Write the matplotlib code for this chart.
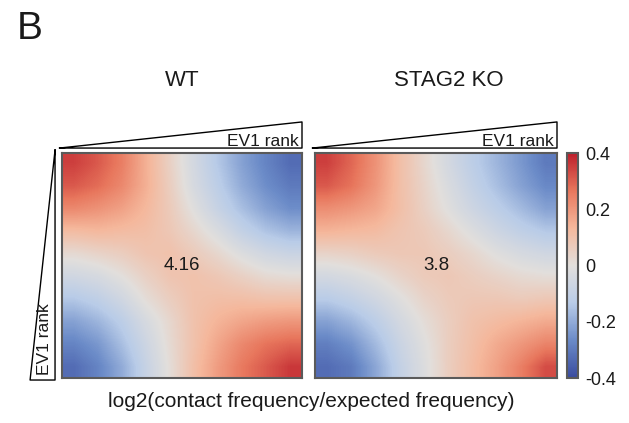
import matplotlib
matplotlib.use("Agg")
import matplotlib.pyplot as plt
from matplotlib.colors import LinearSegmentedColormap
from matplotlib.lines import Line2D

plt.rcParams['font.family'] = ['Liberation Sans', 'DejaVu Sans']

# saddle matrices, EV1 rank bins (rows top->bottom, cols left->right)
wt_saddle = [
    [0.35, 0.31, 0.25, 0.15, 0.05, -0.05, -0.14, -0.22, -0.28, -0.33],
    [0.31, 0.28, 0.23, 0.15, 0.06, -0.04, -0.12, -0.20, -0.26, -0.30],
    [0.23, 0.21, 0.18, 0.13, 0.07, -0.01, -0.09, -0.16, -0.22, -0.26],
    [0.12, 0.13, 0.12, 0.11, 0.08, 0.03, -0.03, -0.10, -0.15, -0.18],
    [0.02, 0.04, 0.06, 0.09, 0.10, 0.07, 0.03, -0.02, -0.06, -0.08],
    [-0.06, -0.04, 0.00, 0.05, 0.09, 0.10, 0.08, 0.05, 0.02, 0.01],
    [-0.14, -0.11, -0.06, 0.01, 0.06, 0.10, 0.11, 0.11, 0.10, 0.10],
    [-0.22, -0.18, -0.12, -0.04, 0.03, 0.10, 0.14, 0.17, 0.19, 0.20],
    [-0.28, -0.24, -0.16, -0.07, 0.02, 0.10, 0.17, 0.23, 0.27, 0.29],
    [-0.33, -0.28, -0.20, -0.09, 0.01, 0.11, 0.19, 0.26, 0.31, 0.36],
]
ko_saddle = [
    [0.35, 0.29, 0.21, 0.11, 0.03, -0.05, -0.12, -0.18, -0.24, -0.30],
    [0.31, 0.27, 0.20, 0.11, 0.04, -0.03, -0.10, -0.16, -0.22, -0.27],
    [0.22, 0.20, 0.17, 0.11, 0.05, -0.01, -0.07, -0.12, -0.17, -0.22],
    [0.14, 0.13, 0.12, 0.09, 0.07, 0.03, -0.02, -0.07, -0.11, -0.14],
    [0.04, 0.05, 0.07, 0.08, 0.08, 0.06, 0.03, -0.01, -0.04, -0.06],
    [-0.05, -0.03, 0.00, 0.04, 0.07, 0.08, 0.06, 0.04, 0.02, 0.01],
    [-0.13, -0.10, -0.06, -0.01, 0.04, 0.07, 0.08, 0.08, 0.07, 0.08],
    [-0.22, -0.18, -0.12, -0.05, 0.01, 0.06, 0.10, 0.12, 0.14, 0.16],
    [-0.29, -0.25, -0.17, -0.08, -0.01, 0.06, 0.11, 0.16, 0.20, 0.24],
    [-0.33, -0.30, -0.21, -0.10, -0.02, 0.06, 0.12, 0.18, 0.25, 0.33],
]
titles = ["WT", "STAG2 KO"]
strengths = ["4.16", "3.8"]
cbar_ticks = [-0.4, -0.2, 0, 0.2, 0.4]
cbar_labels = ["-0.4", "-0.2", "0", "0.2", "0.4"]

cmap = LinearSegmentedColormap.from_list(
    "saddle", ["#3a4b9f", "#6b8bc8", "#b9cce8", "#e2dfdc",
               "#f5b89c", "#e8775d", "#bd1f2c"])

fig = plt.figure(figsize=(6.29, 4.23), dpi=100)
W, H = 629.0, 423.0

def px_axes(x0, x1, y0, y1):
    return fig.add_axes([x0 / W, 1 - y1 / H, (x1 - x0) / W, (y1 - y0) / H])

ax_wt = px_axes(62, 302, 153, 378)
ax_ko = px_axes(315, 557, 153, 378)
cax = px_axes(567, 578, 153, 378)

edge = "#5a5a5a"
txt = "#1a1a1a"
for ax, mat, title, s in zip([ax_wt, ax_ko], [wt_saddle, ko_saddle], titles, strengths):
    im = ax.imshow(mat, cmap=cmap, vmin=-0.4, vmax=0.4, aspect="auto",
                   interpolation="bilinear")
    ax.set_xticks([])
    ax.set_yticks([])
    for sp in ax.spines.values():
        sp.set_color(edge)
        sp.set_linewidth(1.5)
    ax.text(0.5, 0.5, s, transform=ax.transAxes, ha="center", va="center",
            fontsize=13.5, color=txt)
    # EV1 rank wedge above the map
    ax.add_line(Line2D([-0.01, 1.0, 1.0, -0.01], [1.022, 1.138, 1.022, 1.022],
                       transform=ax.transAxes, color="black", lw=1.0, clip_on=False))
    ax.text(0.985, 1.03, "EV1 rank", transform=ax.transAxes, ha="right",
            va="baseline", fontsize=12.5, fontstretch="condensed",
            family=["Liberation Sans Narrow", "Liberation Sans"], color=txt)

# panel titles
fig.text(182 / W, 1 - 81 / H, titles[0], ha="center", va="center", fontsize=16, color=txt)
fig.text(449 / W, 1 - 81 / H, titles[1], ha="center", va="center", fontsize=16, color=txt)

# EV1 rank wedge on the left of the WT map
ax_wt.add_line(Line2D([-0.029, -0.133, -0.029, -0.029], [1.013, -0.009, -0.009, 1.013],
                      transform=ax_wt.transAxes, color="black", lw=1.0, clip_on=False))
ax_wt.text(-0.072, 0.015, "EV1 rank", transform=ax_wt.transAxes, rotation=90,
           ha="center", va="bottom", fontsize=12.5, fontstretch="condensed",
           family=["Liberation Sans Narrow", "Liberation Sans"], color=txt)

cb = fig.colorbar(im, cax=cax, ticks=cbar_ticks)
cb.ax.set_yticklabels(cbar_labels)
cb.ax.tick_params(length=0, pad=5, labelsize=13, labelcolor=txt)
cb.outline.set_edgecolor(edge)
cb.outline.set_linewidth(1.5)

fig.text(311 / W, 1 - 401 / H, "log2(contact frequency/expected frequency)",
         ha="center", va="center", fontsize=15, color=txt)
fig.text(17 / W, 1 - 39 / H, "B", ha="left", va="baseline", fontsize=28, color=txt)

fig.savefig("out.png", dpi=100)
